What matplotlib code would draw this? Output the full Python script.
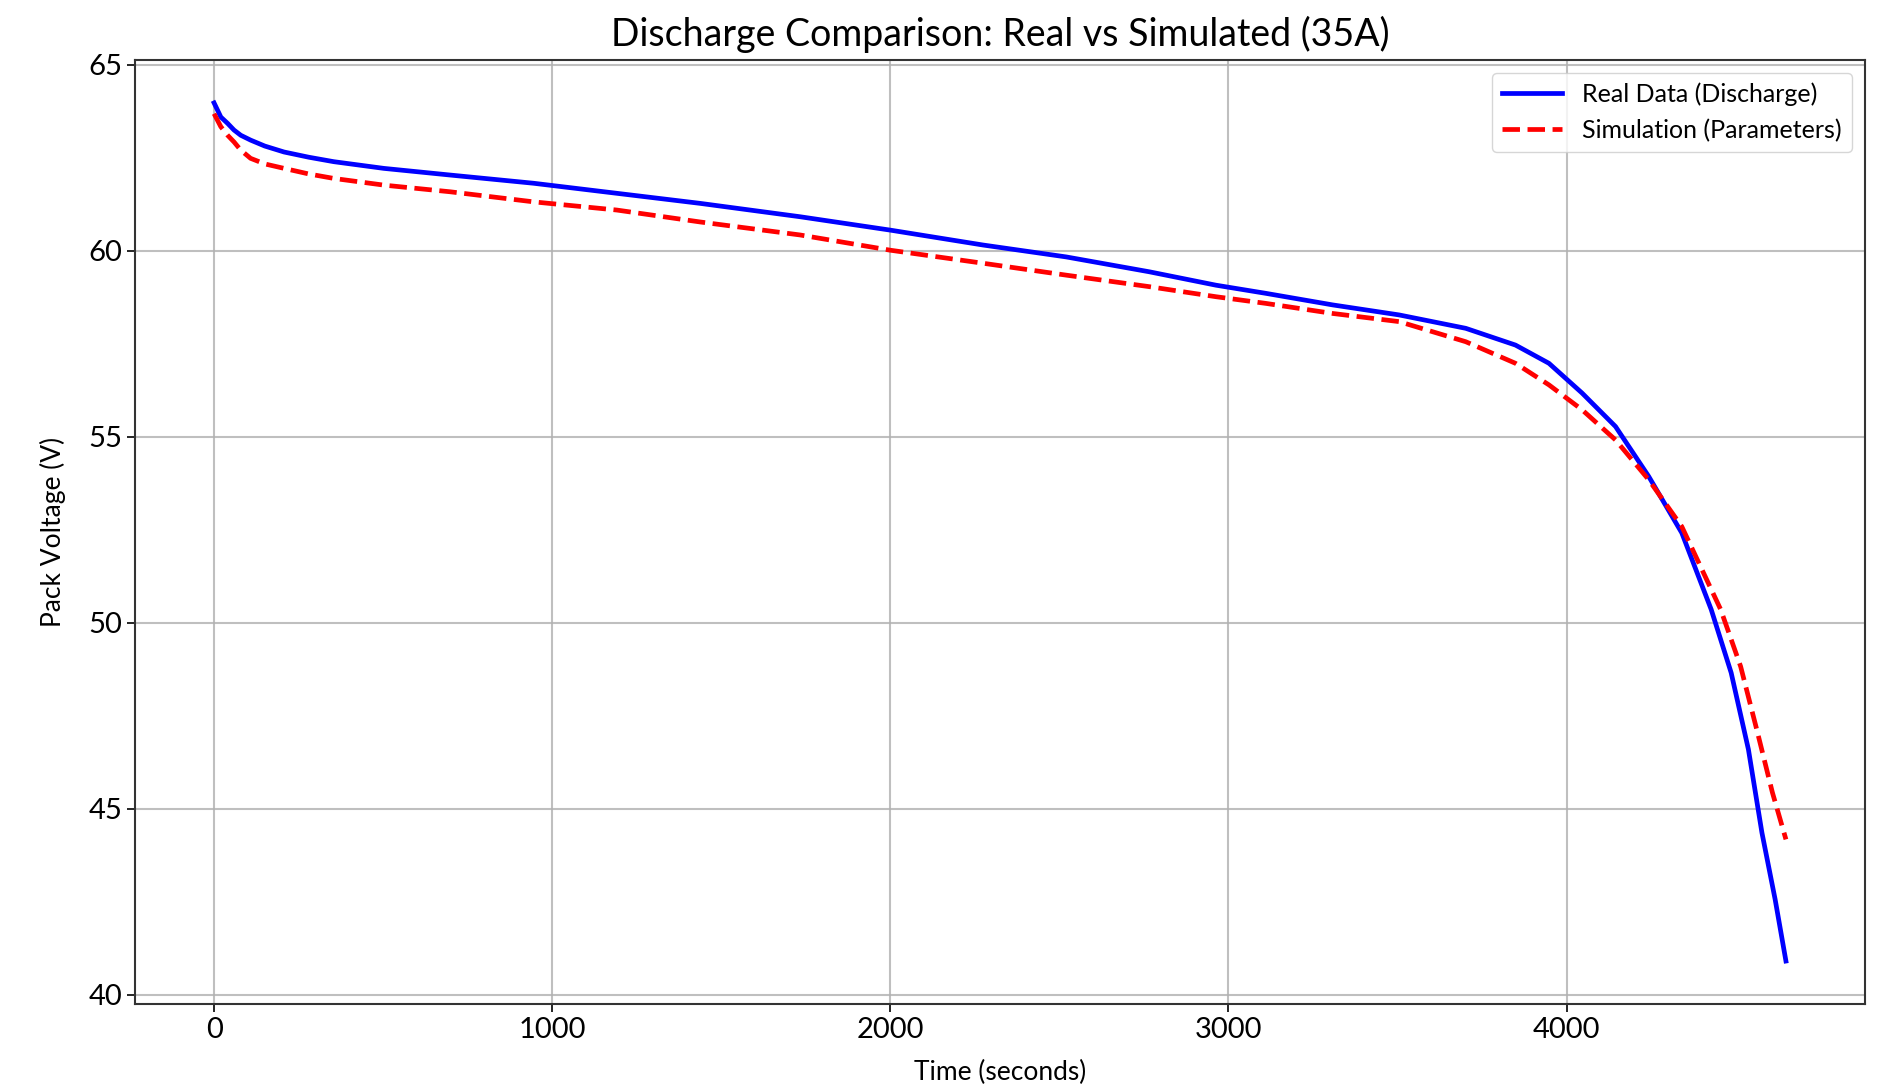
import matplotlib
matplotlib.use("Agg")
import matplotlib.pyplot as plt

plt.rcParams['font.family'] = ['Lato', 'DejaVu Sans']

title = "Discharge Comparison: Real vs Simulated (35A)"
xlabel = "Time (seconds)"
ylabel = "Pack Voltage (V)"
label_real = "Real Data (Discharge)"
label_sim = "Simulation (Parameters)"

# Real data
t_real = [0, 20, 40, 59, 79, 108, 150, 207, 280, 354, 502, 699, 945, 1191, 1437,
          1733, 2000, 2274, 2520, 2766, 2963, 3111, 3308, 3505, 3702, 3849,
          3948, 4046, 4145, 4243, 4341, 4428, 4487, 4538, 4578, 4617, 4649]
v_real = [63.98, 63.60, 63.43, 63.25, 63.11, 62.98, 62.82, 62.66, 62.52, 62.40,
          62.22, 62.04, 61.82, 61.55, 61.28, 60.92, 60.56, 60.16, 59.84, 59.44,
          59.08, 58.86, 58.55, 58.28, 57.92, 57.47, 56.98, 56.18, 55.28, 53.94,
          52.42, 50.36, 48.66, 46.60, 44.36, 42.57, 40.91]

# Simulation
t_sim = [0, 20, 40, 59, 79, 108, 150, 207, 280, 354, 502, 699, 945, 1191, 1437,
         1733, 2000, 2274, 2520, 2766, 2963, 3111, 3308, 3505, 3702, 3849,
         3948, 4046, 4145, 4243, 4341, 4456, 4515, 4565, 4609, 4649]
v_sim = [63.69, 63.34, 63.11, 62.93, 62.71, 62.49, 62.34, 62.22, 62.07, 61.95,
         61.77, 61.59, 61.32, 61.10, 60.78, 60.43, 60.02, 59.67, 59.35, 59.04,
         58.77, 58.59, 58.32, 58.10, 57.56, 56.98, 56.40, 55.73, 54.92, 53.85,
         52.59, 50.36, 48.83, 47.05, 45.44, 44.18]

fig = plt.figure(figsize=(18.79, 10.85), dpi=100)
ax = fig.add_axes([0.0721, 0.0747, 0.9202, 0.870])

ax.plot(t_real, v_real, color='blue', lw=3.4, label=label_real)
ax.plot(t_sim, v_sim, color='red', lw=3.4, ls='--', label=label_sim)

ax.set_title(title, fontsize=27, pad=10)
ax.set_xlabel(xlabel, fontsize=19, labelpad=12)
ax.set_ylabel(ylabel, fontsize=19, labelpad=16)
ax.tick_params(labelsize=21, length=6, width=1.2)
ax.grid(True, color='#b0b0b0', lw=1.5, alpha=0.8)
for s in ax.spines.values():
    s.set_linewidth(1.5)
    s.set_color('#333333')
ax.legend(loc='upper right', fontsize=18, handlelength=2.4)

fig.savefig("out.png", dpi=100)
